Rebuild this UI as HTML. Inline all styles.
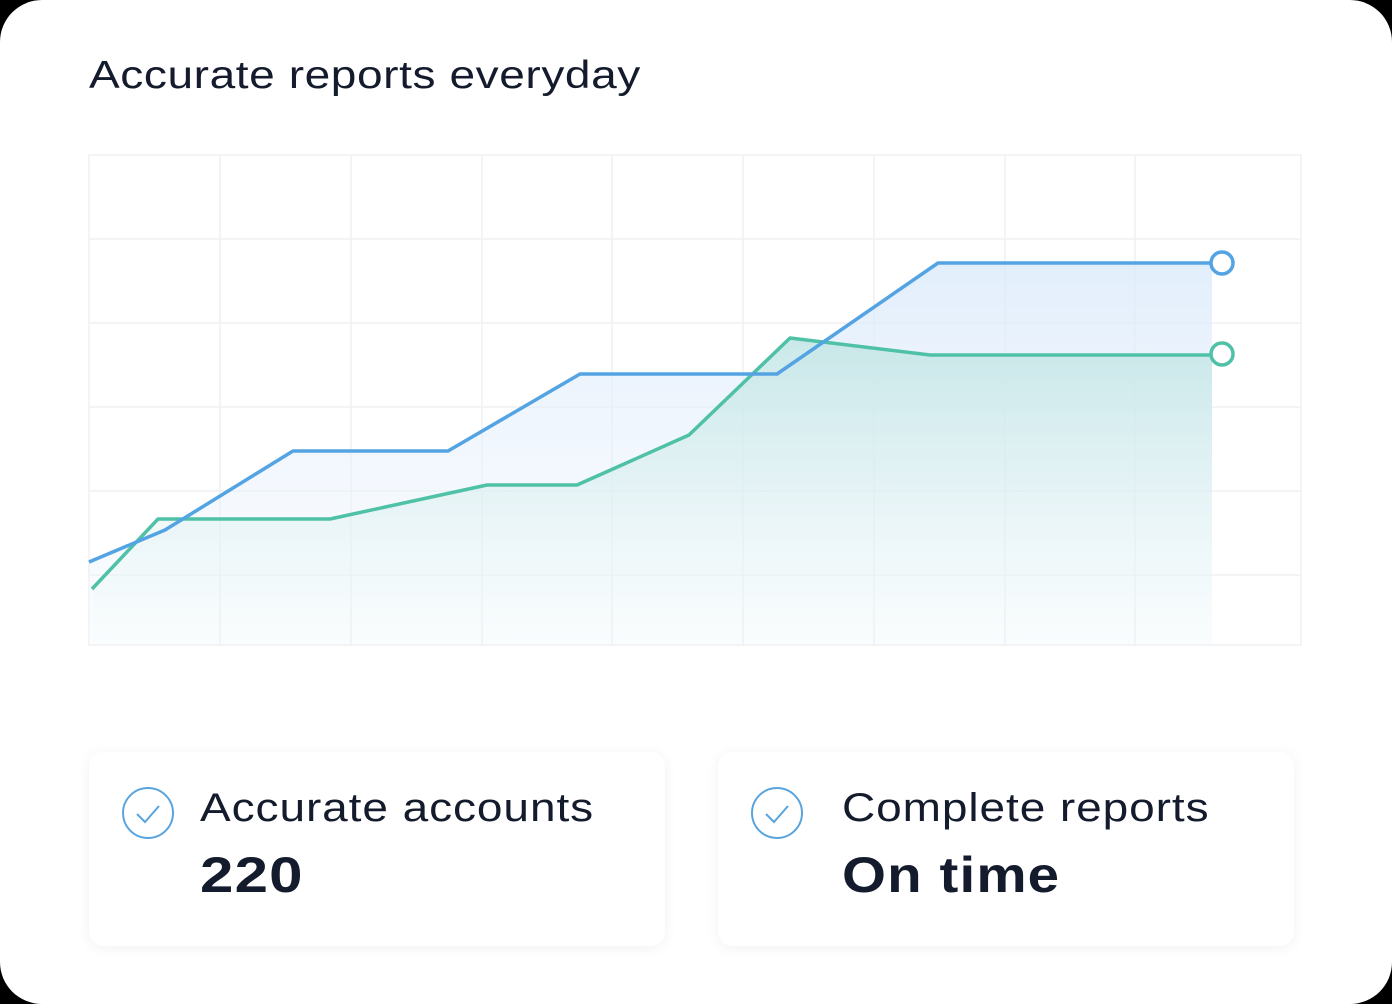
<!DOCTYPE html>
<html><head><style>
html,body{margin:0;padding:0;background:#000;}
.card{position:absolute;left:0;top:0;width:1392px;height:1004px;background:#fff;border-radius:42px;overflow:hidden;font-family:"Liberation Sans",sans-serif;color:#141b2d;}
.title{position:absolute;left:89px;top:54px;font-size:39px;letter-spacing:0.5px;transform:scaleX(1.18);transform-origin:0 0;white-space:nowrap;}
.box{position:absolute;top:752px;height:194px;background:#fff;border-radius:14px;box-shadow:0 2px 14px rgba(0,0,0,0.06);}
.l1{position:absolute;font-size:40px;letter-spacing:0.8px;top:34px;transform:scaleX(1.15);transform-origin:0 0;white-space:nowrap;}
.l2{position:absolute;font-size:50px;font-weight:bold;top:94px;letter-spacing:1px;transform-origin:0 0;white-space:nowrap;}
.chk{position:absolute;left:32px;top:34px;}
</style></head><body>
<div class="card">
<div class="title">Accurate reports everyday</div>
<svg width="1392" height="700" style="position:absolute;left:0;top:0">
<defs>
<linearGradient id="gb" x1="0" y1="0" x2="0" y2="1"><stop offset="0" stop-color="#dbeafb" stop-opacity="0.8"/><stop offset="1" stop-color="#eef5fd" stop-opacity="0.2"/></linearGradient>
<linearGradient id="gg" x1="0" y1="0" x2="0" y2="1"><stop offset="0" stop-color="#c4e6e6" stop-opacity="0.9"/><stop offset="1" stop-color="#e8f6f5" stop-opacity="0.1"/></linearGradient>
</defs>
<g stroke="#f0f1f3" stroke-width="1.5" fill="none">
<rect x="89" y="155" width="1212" height="490"/>
<line x1="220" y1="155" x2="220" y2="645"/><line x1="351" y1="155" x2="351" y2="645"/><line x1="482" y1="155" x2="482" y2="645"/><line x1="612" y1="155" x2="612" y2="645"/><line x1="743" y1="155" x2="743" y2="645"/><line x1="874" y1="155" x2="874" y2="645"/><line x1="1005" y1="155" x2="1005" y2="645"/><line x1="1135" y1="155" x2="1135" y2="645"/>
<line x1="89" y1="239" x2="1301" y2="239"/><line x1="89" y1="323" x2="1301" y2="323"/><line x1="89" y1="407" x2="1301" y2="407"/><line x1="89" y1="491" x2="1301" y2="491"/><line x1="89" y1="575" x2="1301" y2="575"/>
</g>
<polygon fill="url(#gb)" points="89,562 165,530 293,451 448,451 580,374 777,374 938,263 1212,263 1212,645 89,645"/>
<polygon fill="url(#gg)" points="92,589 158,519 330,519 487,485 577,485 689,435 790,338 930,355 1212,355 1212,645 92,645"/>
<polyline fill="none" stroke="#4fc1a6" stroke-width="3.5" stroke-linejoin="round" points="92,589 158,519 330,519 487,485 577,485 689,435 790,338 930,355 1210,355"/>
<polyline fill="none" stroke="#54a3e3" stroke-width="3.5" stroke-linejoin="round" points="89,562 165,530 293,451 448,451 580,374 777,374 938,263 1210,263"/>
<circle cx="1222" cy="263" r="11" fill="#fff" stroke="#54a3e3" stroke-width="3.5"/>
<circle cx="1222" cy="354" r="11" fill="#fff" stroke="#4fc1a6" stroke-width="3.5"/>
</svg>
<div class="box" style="left:89px;width:576px">
<svg class="chk" width="54" height="54"><circle cx="27" cy="27" r="25" fill="none" stroke="#5aa4de" stroke-width="2"/><polyline points="16,28 24,36 38,20" fill="none" stroke="#5aa4de" stroke-width="2"/></svg>
<div class="l1" style="left:111px">Accurate accounts</div>
<div class="l2" style="left:111px;transform:scaleX(1.2)">220</div>
</div>
<div class="box" style="left:718px;width:576px">
<svg class="chk" width="54" height="54"><circle cx="27" cy="27" r="25" fill="none" stroke="#5aa4de" stroke-width="2"/><polyline points="16,28 24,36 38,20" fill="none" stroke="#5aa4de" stroke-width="2"/></svg>
<div class="l1" style="left:124px">Complete reports</div>
<div class="l2" style="left:124px;transform:scaleX(1.13)">On time</div>
</div>
</div>
</body></html>
